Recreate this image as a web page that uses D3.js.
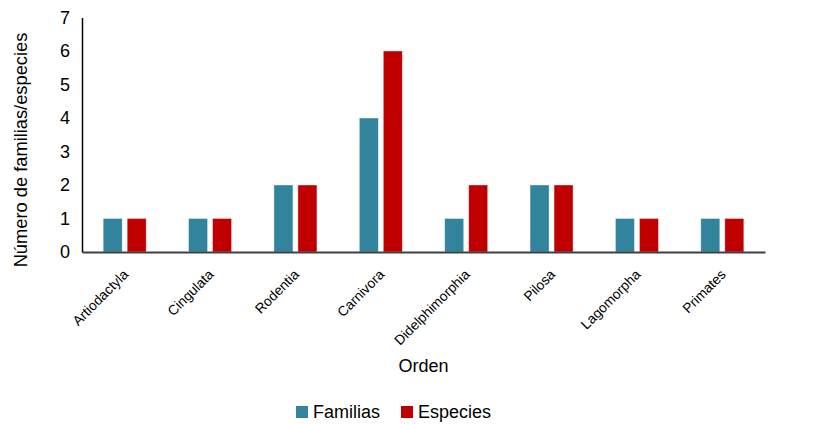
<!DOCTYPE html>
<html>
<head>
<meta charset="utf-8">
<script src="https://cdn.jsdelivr.net/npm/d3@7"></script>
<style>
  html, body { margin: 0; padding: 0; background: #fff; }
  svg { display: block; font-family: "Liberation Sans", Arial, sans-serif; }
</style>
</head>
<body>
<svg id="chart" width="814" height="424"></svg>
<script>
// Mammal orders and their counts of families and species
const categories = ["Artiodactyla", "Cingulata", "Rodentia", "Carnivora", "Didelphimorphia", "Pilosa", "Lagomorpha", "Primates"];
const familias = [1, 1, 2, 4, 1, 2, 1, 1];
const especies = [1, 1, 2, 6, 2, 2, 1, 1];
const seriesNames = ["Familias", "Especies"];
const seriesColors = ["#31849B", "#C00000"];
const yTicks = [0, 1, 2, 3, 4, 5, 6, 7];

const svg = d3.select("#chart");
const margin = { left: 82, right: 49, top: 17.5, bottom: 172 };
const W = 814, H = 424;

const x = d3.scaleBand()
  .domain(categories)
  .range([margin.left, W - margin.right])
  .paddingInner(0).paddingOuter(0);

const y = d3.scaleLinear()
  .domain([0, 7])
  .range([H - margin.bottom, margin.top]);

const barW = 19, barGap = 5;
const sub = d3.scaleOrdinal().domain(seriesNames).range([-(barW + barGap / 2), barGap / 2]);

const rows = categories.map((c, i) => ({ cat: c, values: [familias[i], especies[i]] }));

// bars
const groups = svg.append("g").selectAll("g")
  .data(rows).join("g")
  .attr("transform", d => `translate(${x(d.cat) + x.bandwidth() / 2},0)`);

groups.selectAll("rect")
  .data(d => d.values.map((v, k) => ({ v, k })))
  .join("rect")
  .attr("x", d => sub(seriesNames[d.k]))
  .attr("width", barW)
  .attr("y", d => y(d.v))
  .attr("height", d => y(0) - y(d.v))
  .attr("fill", d => seriesColors[d.k])
  .attr("stroke", "#fff")
  .attr("stroke-opacity", 0.5)
  .attr("stroke-width", 0.75);

// y axis
const yAxis = d3.axisLeft(y).tickValues(yTicks).tickSize(0).tickPadding(12).tickFormat(d3.format("d"));
const gy = svg.append("g")
  .attr("transform", `translate(${margin.left},0)`)
  .call(yAxis);
gy.select(".domain").attr("stroke", "#000").attr("stroke-width", 1.5);
gy.selectAll("text").attr("font-size", 18).attr("fill", "#000")
  .attr("font-family", "Liberation Sans, Arial, sans-serif");

// x axis
const xAxis = d3.axisBottom(x).tickSize(0).tickFormat("");
const gx = svg.append("g")
  .attr("transform", `translate(0,${y(0)})`)
  .call(xAxis);
gx.select(".domain").attr("stroke", "#404040").attr("stroke-width", 2);

// rotated category labels
svg.append("g").selectAll("text")
  .data(categories).join("text")
  .attr("transform", d => `translate(${x(d) + x.bandwidth() / 2 + 1},${y(0) + 20}) rotate(-45)`)
  .attr("text-anchor", "end")
  .attr("dy", "0.35em")
  .attr("font-size", 13.8)
  .attr("fill", "#000")
  .text(d => d);

// axis titles
svg.append("text")
  .attr("transform", `translate(27,150) rotate(-90)`)
  .attr("text-anchor", "middle")
  .attr("font-size", 18.3)
  .attr("fill", "#000")
  .text("Número de familias/especies");

svg.append("text")
  .attr("x", (margin.left + W - margin.right) / 2)
  .attr("y", 372)
  .attr("text-anchor", "middle")
  .attr("font-size", 18)
  .attr("fill", "#000")
  .text("Orden");

// legend
const legendItems = [
  { name: seriesNames[0], color: seriesColors[0], x: 296 },
  { name: seriesNames[1], color: seriesColors[1], x: 401 }
];
const lg = svg.append("g").selectAll("g").data(legendItems).join("g")
  .attr("transform", d => `translate(${d.x},406)`);
lg.append("rect").attr("width", 12).attr("height", 12).attr("fill", d => d.color);
lg.append("text").attr("x", 17).attr("y", 12).attr("font-size", 18).attr("fill", "#000")
  .text(d => d.name);
</script>
</body>
</html>
